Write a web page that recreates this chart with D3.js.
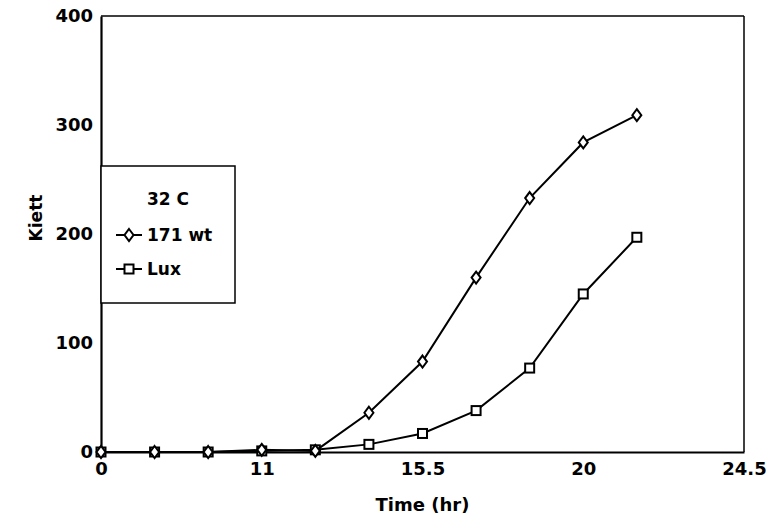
<!DOCTYPE html>
<html><head><meta charset="utf-8">
<script src="https://cdn.jsdelivr.net/npm/d3@7/dist/d3.min.js"></script>
<style>body{margin:0;background:#fff}svg{display:block}text{font-family:"DejaVu Sans",Verdana,sans-serif;font-weight:bold;fill:#000}</style>
</head><body>
<svg id="c" width="773" height="530"></svg>
<script>
// ---- data ----
const timeCategories = ["0","8","9.5","11","12.5","14","15.5","17","18.5","20","21.5","23","24.5"];
const xTickLabels = ["0","11","15.5","20","24.5"];
const yTickValues = [0,100,200,300,400];
const wtValues = [0,0,0,2,1,36,83,160,233,284,309];
const luxValues = [0,0,0,1,2,7,17,38,77,145,197];
const seriesNames = ["171 wt","Lux"];
const legendTitle = "32 C";

const svg = d3.select("#c");
const L = 101, R = 744, T = 16, B = 452;
const FONT = "DejaVu Sans, Verdana, sans-serif";
const x = d3.scalePoint().domain(timeCategories).range([L, R]);
const y = d3.scaleLinear().domain([0, 400]).range([B, T]);

// frame (top/right thinner)
svg.append("line").attr("x1",L).attr("x2",R).attr("y1",T).attr("y2",T).attr("stroke","#000").attr("stroke-width",1.5);
svg.append("line").attr("x1",R).attr("x2",R).attr("y1",T).attr("y2",B).attr("stroke","#000").attr("stroke-width",1.5);

// axes
const xAxis = svg.append("g").attr("transform",`translate(0,${B})`)
  .call(d3.axisBottom(x).tickValues(xTickLabels).tickSize(0).tickPadding(10));
xAxis.select(".domain").attr("stroke","#000").attr("stroke-width",2.2);
xAxis.selectAll("text").attr("font-size",18).attr("font-family",FONT).attr("font-weight","bold");

const yAxis = svg.append("g").attr("transform",`translate(${L},0)`)
  .call(d3.axisLeft(y).tickValues(yTickValues).tickSize(0).tickPadding(8));
yAxis.select(".domain").attr("stroke","#000").attr("stroke-width",2.2);
yAxis.selectAll("text").attr("font-size",18).attr("font-family",FONT).attr("font-weight","bold");

// axis titles
svg.append("text").attr("x",(L+R)/2).attr("y",511).attr("text-anchor","middle").attr("font-size",18).text("Time (hr)");
svg.append("text").attr("transform","translate(42,218) rotate(-90)").attr("text-anchor","middle").attr("font-size",17).text("Kiett");

// markers
const diamond = (g, cx, cy) => g.append("path")
  .attr("d",`M${cx},${cy-6}L${cx+4.5},${cy}L${cx},${cy+6}L${cx-4.5},${cy}Z`)
  .attr("fill","#fff").attr("stroke","#000").attr("stroke-width",2);
const square = (g, cx, cy) => g.append("rect")
  .attr("x",cx-4.5).attr("y",cy-4.5).attr("width",9).attr("height",9)
  .attr("fill","#fff").attr("stroke","#000").attr("stroke-width",2);

const line = d3.line().x((d,i)=>x(timeCategories[i])).y(d=>y(d));
const gLux = svg.append("g"), gWt = svg.append("g");
gLux.append("path").datum(luxValues).attr("d",line).attr("fill","none").attr("stroke","#000").attr("stroke-width",2);
gWt.append("path").datum(wtValues).attr("d",line).attr("fill","none").attr("stroke","#000").attr("stroke-width",2);
luxValues.forEach((v,i)=>square(gLux, x(timeCategories[i]), y(v)));
wtValues.forEach((v,i)=>diamond(gWt, x(timeCategories[i]), y(v)));

// legend
const lg = svg.append("g");
lg.append("rect").attr("x",L).attr("y",166).attr("width",134).attr("height",137)
  .attr("fill","#fff").attr("stroke","#000").attr("stroke-width",1.5);
lg.append("text").attr("x",168).attr("y",205).attr("text-anchor","middle").attr("font-size",17).text(legendTitle);
[[235, diamond],[269, square]].forEach(([ly, mk], i) => {
  lg.append("line").attr("x1",116).attr("x2",142).attr("y1",ly).attr("y2",ly).attr("stroke","#000").attr("stroke-width",2);
  mk(lg, 129, ly);
  lg.append("text").attr("x",147).attr("y",ly+6).attr("font-size",17).text(seriesNames[i]);
});
</script>
</body></html>
